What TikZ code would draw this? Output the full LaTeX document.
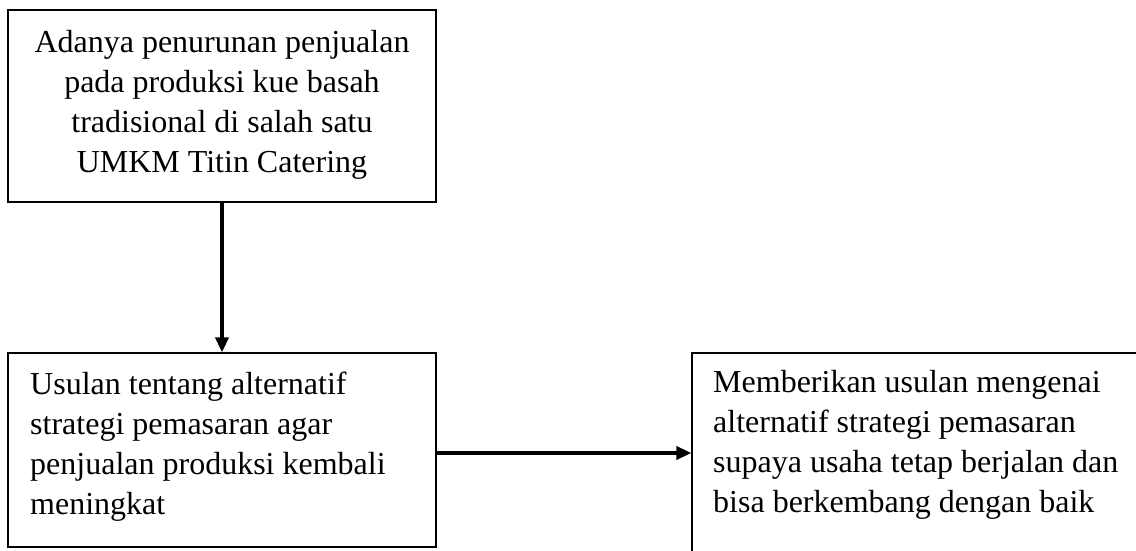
\documentclass[tikz,border=0pt]{standalone}
\usepackage{fontspec}
\setmainfont{Liberation Serif}
\usetikzlibrary{arrows.meta}
\tikzset{
  boxframe/.style={draw=black, line width=1.2pt, inner sep=0pt, rectangle},
  boxtext/.style={inner sep=0pt, font=\fontsize{32}{40}\selectfont},
  flowarrow/.style={line width=3.5pt, -{Triangle[length=15pt,width=13pt]}}
}
\begin{document}
\begin{tikzpicture}[x=1pt,y=-1pt]
\useasboundingbox[fill=white] (0,0) rectangle (1136,551);
\node[boxframe, minimum width=428pt, minimum height=192pt] (b1) at (222,106) {};
\node[boxframe, minimum width=428pt, minimum height=194pt] (b2) at (222,450) {};
\node[boxframe, minimum width=453pt, minimum height=212pt] (b3) at (918.5,459) {};
\node[boxtext, align=center, anchor=north] (t1) at (222,30) {Adanya penurunan penjualan\\pada produksi kue basah\\tradisional di salah satu\\UMKM Titin Catering};
\node[boxtext, align=left, anchor=north west] (t2) at (30,372) {Usulan tentang alternatif\\strategi pemasaran agar\\penjualan produksi kembali\\meningkat};
\node[boxtext, align=left, anchor=north west] (t3) at (713,370) {Memberikan usulan mengenai\\alternatif strategi pemasaran\\supaya usaha tetap berjalan dan\\bisa berkembang dengan baik};
\draw[flowarrow] (b1.south) -- (b2.north);
\draw[flowarrow] (b2.east |- 0,453) -- (b3.west |- 0,453);
\end{tikzpicture}
\end{document}
